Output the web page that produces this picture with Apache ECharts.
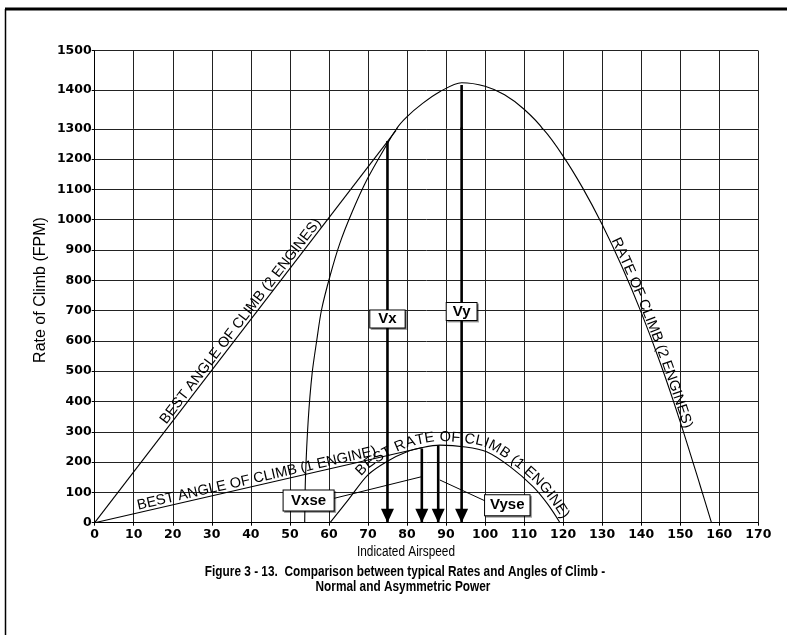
<!DOCTYPE html>
<html>
<head>
<meta charset="utf-8">
<script src="https://cdn.jsdelivr.net/npm/echarts@6/dist/echarts.min.js"></script>
<style>
html,body{margin:0;padding:0;background:#fff;}
#c{width:787px;height:635px;}
</style>
</head>
<body>
<div id="c"></div>
<script>
// ---------------- DATA ----------------
const xTicks = [0,10,20,30,40,50,60,70,80,90,100,110,120,130,140,150,160,170];
const yTicksLower = [0,100,200,300,400,500,600,700,800,900,1000,1100,1200,1300];
const yTicksUpper = [1300,1400,1500];

// Rate of climb, 2 engines
const rocTwoX = [53.8,54.0,54.7,55.7,56.9,58.1,60.3,62.8,66,69.7,75.2,77.4,79.9,84,88.4,94,100,105,110,115,120,125,130,135,140,145,150,155,158];
const rocTwoY = [0,150,339,493,603,702,815,922,1027,1131,1256,1301,1330,1365,1395,1418,1409,1387,1350,1297,1210,1105,984,847,694,523,333,127,0];

// Best angle of climb, 2 engines (straight line from origin)
const angleTwoX = [0,77.2];
const angleTwoY = [0,1295];

// Best rate of climb, 1 engine
const rocOneX = [60.3,65,70,75,80,84,88.4,95,100.4,106.4,112.3,116,119.2];
const rocOneY = [0,76,158,203,234,248,256,250,234,185,119,62,0];

// Best angle of climb, 1 engine
const angleOneX = [0,84];
const angleOneY = [0,248];

// Characteristic speeds (arrows)
const vNames = ['Vx','Vy','Vxse','Vyse'];
const vSpeedX = [75,94,83.8,88];
const vSpeedTop = [1260,1412,245,256];

// Label box anchors (data coordinates)
const boxX = [75,94,54.8,105.7];
const boxY = [672,697,73,58];

// Leader lines for Vxse / Vyse boxes
const leaderFromX = [61.2,100.0];
const leaderFromY = [80,72];
const leaderToX = [83.8,88.4];
const leaderToY = [152,141];

// ---------------- HELPERS ----------------
const pairs = (xs, ys) => xs.map((x, i) => [x, ys[i]]);
const rocTwo = pairs(rocTwoX, rocTwoY);
const angleTwo = pairs(angleTwoX, angleTwoY);
const rocOne = pairs(rocOneX, rocOneY);
const angleOne = pairs(angleOneX, angleOneY);

const LABEL_FONT = '14.5px "Liberation Sans", Arial, sans-serif';
const BOX_FONT = 'bold 15px "Liberation Sans", Arial, sans-serif';
const TICK_FONT_FAMILY = 'DejaVu Sans';

const measureCtx = document.createElement('canvas').getContext('2d');
function textW(t, font) { measureCtx.font = font; return measureCtx.measureText(t).width; }

function densify(px) {
  const out = [];
  const n = px.length;
  for (let i = 0; i < n - 1; i++) {
    const p0 = px[Math.max(i - 1, 0)], p1 = px[i], p2 = px[i + 1], p3 = px[Math.min(i + 2, n - 1)];
    for (let k = 0; k < 20; k++) {
      const t = k / 20, t2 = t * t, t3 = t2 * t;
      const f = (a, b, c, d) => 0.5 * ((2 * b) + (-a + c) * t + (2 * a - 5 * b + 4 * c - d) * t2 + (-a + 3 * b - 3 * c + d) * t3);
      out.push([f(p0[0], p1[0], p2[0], p3[0]), f(p0[1], p1[1], p2[1], p3[1])]);
    }
  }
  out.push(px[n - 1]);
  return out;
}

function pointAt(pts, cum, s) {
  const n = pts.length;
  let i = 0;
  if (s <= 0) i = 0;
  else if (s >= cum[n - 1]) i = n - 2;
  else { while (i < n - 2 && cum[i + 1] < s) i++; }
  const a = pts[i], b = pts[i + 1];
  const seg = cum[i + 1] - cum[i] || 1;
  const t = (s - cum[i]) / seg;
  const dx = b[0] - a[0], dy = b[1] - a[1];
  const len = Math.hypot(dx, dy) || 1;
  return { x: a[0] + dx * t, y: a[1] + dy * t, ux: dx / len, uy: dy / len };
}

function textAlong(api, dataPts, text, font, centerX, offset, children) {
  const px = densify(dataPts.map(p => api.coord(p)));
  const cum = [0];
  for (let i = 1; i < px.length; i++) cum.push(cum[i - 1] + Math.hypot(px[i][0] - px[i - 1][0], px[i][1] - px[i - 1][1]));
  const cx = api.coord([centerX, 0])[0];
  let sC = 0;
  for (let i = 1; i < px.length; i++) {
    const a = px[i - 1], b = px[i];
    if ((a[0] - cx) * (b[0] - cx) <= 0 && a[0] !== b[0]) {
      const t = (cx - a[0]) / (b[0] - a[0]);
      sC = cum[i - 1] + t * (cum[i] - cum[i - 1]);
      break;
    }
  }
  const total = textW(text, font);
  let s = sC - total / 2;
  for (const ch of text) {
    const w = textW(ch, font);
    const p = pointAt(px, cum, s + w / 2);
    s += w;
    if (ch === ' ') continue;
    const nx = p.uy, ny = -p.ux;
    children.push({
      type: 'text',
      x: p.x + nx * offset,
      y: p.y + ny * offset,
      rotation: -Math.atan2(p.uy, p.ux),
      style: { text: ch, font: font, fill: '#000', align: 'center', verticalAlign: 'middle' }
    });
  }
}

const curveLabels = [
  { text: 'BEST ANGLE OF CLIMB (2 ENGINES)', path: angleTwo, centerX: 38.8, offset: 7 },
  { text: 'BEST ANGLE OF CLIMB (1 ENGINE)', path: angleOne, centerX: 41.9, offset: 7 },
  { text: 'RATE OF CLIMB (2 ENGINES)', path: rocTwo.filter(p => p[0] >= 115), centerX: 142.1, offset: 5.5 },
  { text: 'BEST RATE OF CLIMB (1 ENGINE)', path: rocOne, centerX: 96.5, offset: 8 }
];

const boxPad = [[1, 8, 1, 8], [1, 6, 1, 6], [2.5, 7.5, 2.5, 7.5], [2.5, 5, 2.5, 5]];

function renderAnnotations(params, api) {
  const children = [];
  for (let i = 0; i < leaderFromX.length; i++) {
    const a = api.coord([leaderFromX[i], leaderFromY[i]]);
    const b = api.coord([leaderToX[i], leaderToY[i]]);
    children.push({ type: 'line', shape: { x1: a[0], y1: a[1], x2: b[0], y2: b[1] }, style: { stroke: '#000', lineWidth: 1 } });
  }
  for (let i = 0; i < vSpeedX.length; i++) {
    const p = api.coord([vSpeedX[i], 0]);
    children.push({ type: 'polygon', shape: { points: [[p[0] - 6.5, p[1] - 14], [p[0] + 6.5, p[1] - 14], [p[0], p[1]]] }, style: { fill: '#000' } });
  }
  curveLabels.forEach(l => textAlong(api, l.path, l.text, LABEL_FONT, l.centerX, l.offset, children));
  for (let i = 0; i < vNames.length; i++) {
    const p = api.coord([boxX[i], boxY[i]]);
    children.push({
      type: 'text', x: p[0], y: p[1], z2: 10,
      style: {
        text: vNames[i], font: BOX_FONT, fill: '#000', align: 'center', verticalAlign: 'middle',
        lineHeight: 15, backgroundColor: '#fff', borderColor: '#000', borderWidth: 1, padding: boxPad[i],
        shadowColor: 'rgba(0,0,0,0.35)', shadowOffsetX: 1.5, shadowOffsetY: 1.5, shadowBlur: 0
      }
    });
  }
  return { type: 'group', children };
}

// ---------------- CHART ----------------
const gridLeft = 94.7, gridRight = 28.7;
const lowerTop = 128.8, lowerH = 393.9;
const upperTop = 50.7, upperH = 78.1;
const splitColor = '#222';

const tickLabel = { fontFamily: TICK_FONT_FAMILY, fontWeight: 'bold', fontSize: 12.5, color: '#000', formatter: v => String(v) };

const xAxisBase = {
  type: 'value', min: xTicks[0], max: xTicks[xTicks.length - 1], interval: xTicks[1] - xTicks[0],
  splitLine: { show: true, lineStyle: { color: splitColor, width: 1 } }
};
const curveStyle = { color: '#000', width: 1.1 };
const line = (data, gi, extra) => Object.assign({
  type: 'line', xAxisIndex: gi, yAxisIndex: gi, data, symbol: 'none', silent: true,
  clip: true, lineStyle: curveStyle, z: 3
}, extra || {});

const series = [
  line(rocTwo, 0, { smooth: 0.3 }),
  line(rocTwo, 1, { smooth: 0.3 }),
  line(angleTwo, 0),
  line(rocOne, 0, { smooth: 0.3 }),
  line(angleOne, 0)
];
vSpeedX.forEach((x, i) => {
  const d = [[x, vSpeedTop[i]], [x, 0]];
  series.push(line(d, 0, { lineStyle: { color: '#000', width: 2.6 }, z: 4 }));
  if (vSpeedTop[i] > yTicksLower[yTicksLower.length - 1]) series.push(line(d, 1, { lineStyle: { color: '#000', width: 2.6 }, z: 4 }));
});
series.push({
  type: 'custom', xAxisIndex: 0, yAxisIndex: 0, data: [[0, 0]], renderItem: renderAnnotations,
  silent: true, z: 10, clip: false
});

const fam = (font) => font + ' "Liberation Sans", Arial, sans-serif';

const chart = echarts.init(document.getElementById('c'), null, { renderer: 'canvas' });
chart.setOption({
  animation: false,
  backgroundColor: '#fff',
  grid: [
    { left: gridLeft, right: gridRight, top: lowerTop, height: lowerH },
    { left: gridLeft, right: gridRight, top: upperTop, height: upperH }
  ],
  xAxis: [
    Object.assign({}, xAxisBase, {
      gridIndex: 0,
      axisLine: { show: true, onZero: false, lineStyle: { color: '#000', width: 1 } },
      axisTick: { show: true, length: 3, lineStyle: { color: '#000' } },
      axisLabel: Object.assign({ margin: 6 }, tickLabel)
    }),
    Object.assign({}, xAxisBase, {
      gridIndex: 1,
      axisLine: { show: false }, axisTick: { show: false }, axisLabel: { show: false }
    })
  ],
  yAxis: [
    {
      type: 'value', gridIndex: 0, min: yTicksLower[0], max: yTicksLower[yTicksLower.length - 1],
      interval: yTicksLower[1] - yTicksLower[0],
      axisLine: { show: true, lineStyle: { color: '#000', width: 1 } },
      axisTick: { show: true, length: 3, lineStyle: { color: '#000' } },
      axisLabel: Object.assign({ margin: 3 }, tickLabel),
      splitLine: { show: true, lineStyle: { color: splitColor, width: 1 } }
    },
    {
      type: 'value', gridIndex: 1, min: yTicksUpper[0], max: yTicksUpper[yTicksUpper.length - 1],
      interval: yTicksUpper[1] - yTicksUpper[0],
      axisLine: { show: true, lineStyle: { color: '#000', width: 1 } },
      axisTick: { show: true, length: 3, lineStyle: { color: '#000' } },
      axisLabel: Object.assign({ margin: 3, showMinLabel: false }, tickLabel),
      splitLine: { show: true, lineStyle: { color: splitColor, width: 1 } }
    }
  ],
  graphic: [
    { type: 'line', shape: { x1: 5, y1: 9, x2: 787, y2: 9 }, style: { stroke: '#000', lineWidth: 3 } },
    { type: 'line', shape: { x1: 5.5, y1: 9, x2: 5.5, y2: 635 }, style: { stroke: '#000', lineWidth: 1.5 } },
    { type: 'text', x: 41, y: 290, rotation: Math.PI / 2,
      style: { text: 'Rate of Climb (FPM)', font: fam('16px'), fill: '#000', align: 'center', verticalAlign: 'middle' } },
    { type: 'text', x: 406, y: 552, scaleX: 0.845,
      style: { text: 'Indicated Airspeed', font: fam('14px'), fill: '#000', align: 'center', verticalAlign: 'middle' } },
    { type: 'text', x: 405, y: 572, scaleX: 0.845,
      style: { text: 'Figure 3 - 13.  Comparison between typical Rates and Angles of Climb -', font: fam('bold 14px'), fill: '#000', align: 'center', verticalAlign: 'middle' } },
    { type: 'text', x: 403, y: 587, scaleX: 0.845,
      style: { text: 'Normal and Asymmetric Power', font: fam('bold 14px'), fill: '#000', align: 'center', verticalAlign: 'middle' } }
  ],
  series
});
</script>
</body>
</html>
